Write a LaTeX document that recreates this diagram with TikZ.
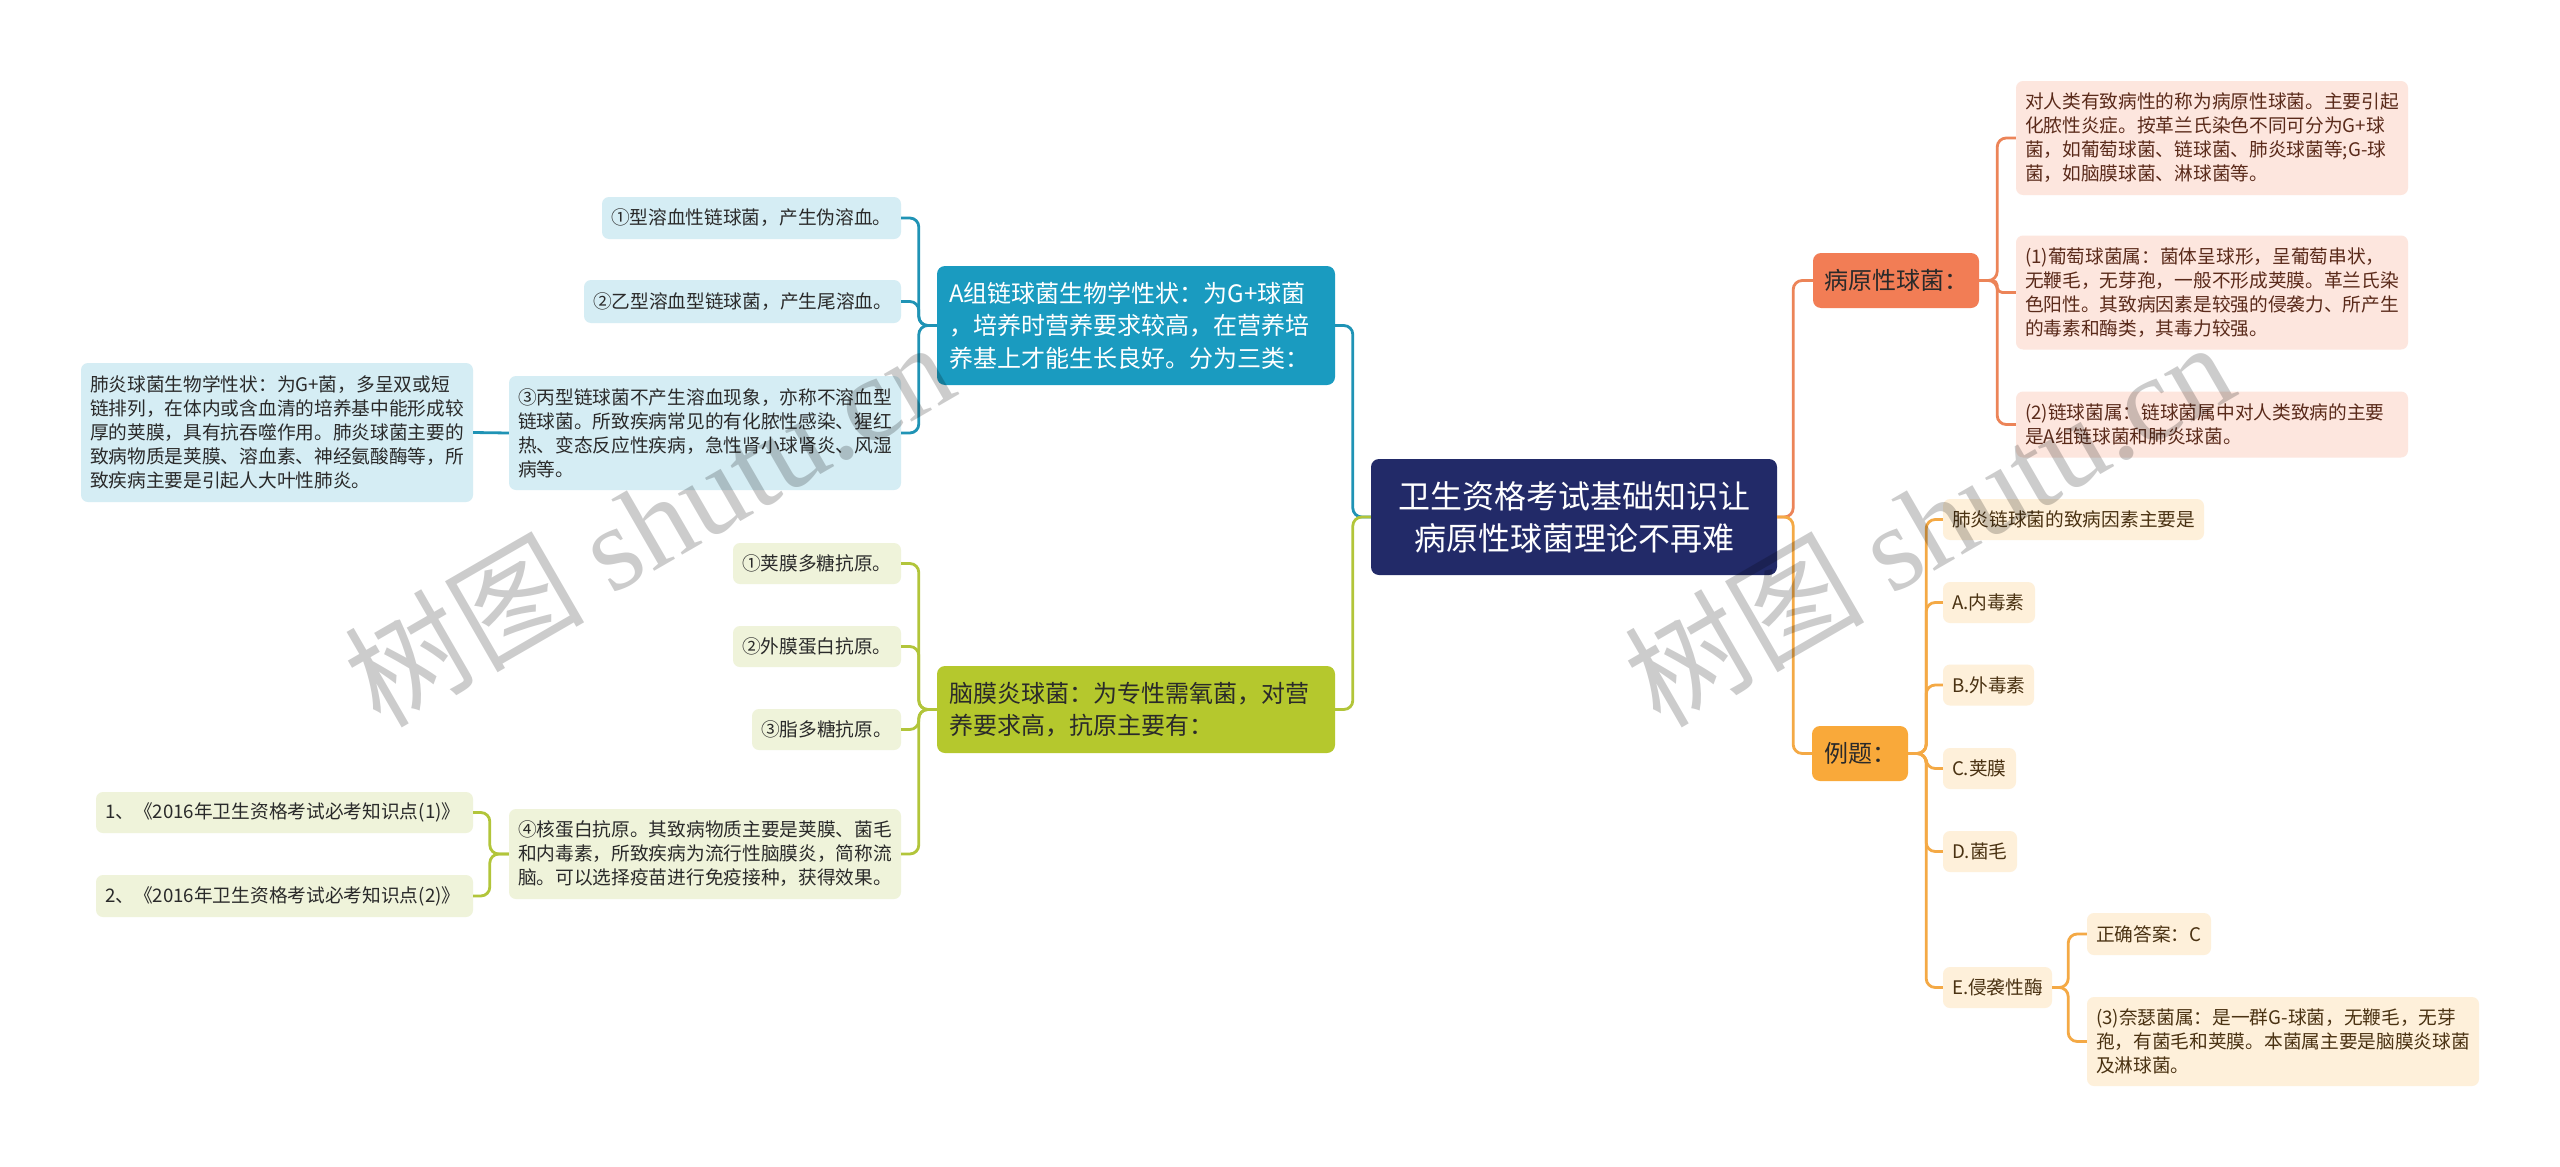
\documentclass[tikz,border=0pt]{standalone}
\usepackage{fontspec}
\setmainfont{Noto Sans CJK SC}
\newfontfamily\wmlatin{Liberation Serif}
\usetikzlibrary{calc}
\definecolor{rootfill}{HTML}{222A68}
\definecolor{tealfill}{HTML}{1A9BC0}
\definecolor{teallight}{HTML}{D5EDF4}
\definecolor{tealline}{HTML}{1F93B5}
\definecolor{olivefill}{HTML}{B5C82D}
\definecolor{olivelight}{HTML}{EFF3DA}
\definecolor{oliveline}{HTML}{B2C53A}
\definecolor{coralfill}{HTML}{F27D55}
\definecolor{corallight}{HTML}{FDE6DE}
\definecolor{coralline}{HTML}{EC8458}
\definecolor{orangefill}{HTML}{F9A93A}
\definecolor{orangelight}{HTML}{FEF0DA}
\definecolor{orangeline}{HTML}{F4A945}
\definecolor{darktext}{HTML}{2A2A2A}
\definecolor{browntext}{HTML}{5A2A1A}
\definecolor{ambertext}{HTML}{4A3212}
\tikzset{
  box/.style={rounded corners=7pt, inner ysep=0pt, inner xsep=9pt, align=left,
    font=\fontsize{18.7pt}{24pt}\selectfont},
  leafT/.style={box, fill=teallight, text=darktext},
  leafO/.style={box, fill=olivelight, text=darktext},
  leafC/.style={box, fill=corallight, text=browntext},
  leafA/.style={box, fill=orangelight, text=ambertext},
  mainbox/.style={rounded corners=8pt, inner ysep=0pt, inner xsep=12pt, align=left,
    font=\fontsize{24pt}{32.5pt}\selectfont},
  conn/.style={line width=2.8pt, rounded corners=9pt},
  tl/.style={conn, draw=tealline},
  ol/.style={conn, draw=oliveline},
  cl/.style={conn, draw=coralline},
  orl/.style={conn, draw=orangeline},
  wm/.style={text=black, text opacity=0.2, font=\fontsize{120pt}{120pt}\selectfont, inner sep=0pt}
}
\begin{document}
\begin{tikzpicture}[x=1pt, y=-1pt]
\useasboundingbox (0,0) rectangle (2560,1167);
\fill[white] (0,0) rectangle (2560,1167);

% root
\node[rounded corners=8pt, fill=rootfill, text=white, align=center, inner ysep=0pt, inner xsep=13pt,
  text width=380pt, minimum height=116pt, font=\fontsize{32pt}{42pt}\selectfont]
  (root) at (1574,517) {卫生资格考试基础知识让\\病原性球菌理论不再难};

% left main branches
\node[mainbox, fill=tealfill, text=white, text width=374pt, minimum height=119pt]
  (a) at (1136,325.5) {A组链球菌生物学性状：为G+球菌\\，培养时营养要求较高，在营养培\\养基上才能生长良好。分为三类：};
\node[mainbox, fill=olivefill, text=darktext, text width=374pt, minimum height=87pt]
  (m) at (1136,709.5) {脑膜炎球菌：为专性需氧菌，对营\\养要求高，抗原主要有：};

% A group children
\node[leafT, text width=281pt, minimum height=42pt] (c1) at (751.5,218) {①型溶血性链球菌，产生伪溶血。};
\node[leafT, text width=299pt, minimum height=43pt] (c2) at (742.5,301.5) {②乙型溶血型链球菌，产生尾溶血。};
\node[leafT, text width=374pt, minimum height=114pt] (c3) at (705,433) {③丙型链球菌不产生溶血现象，亦称不溶血型\\链球菌。所致疾病常见的有化脓性感染、猩红\\热、变态反应性疾病，急性肾小球肾炎、风湿\\病等。};
\node[leafT, text width=374pt, minimum height=139pt] (fy) at (277,432.5) {肺炎球菌生物学性状：为G+菌，多呈双或短\\链排列，在体内或含血清的培养基中能形成较\\厚的荚膜，具有抗吞噬作用。肺炎球菌主要的\\致病物质是荚膜、溶血素、神经氨酸酶等，所\\致疾病主要是引起人大叶性肺炎。};

% meningococcus children
\node[leafO, text width=150pt, minimum height=41pt] (m1) at (817,563.5) {①荚膜多糖抗原。};
\node[leafO, text width=150pt, minimum height=41pt] (m2) at (817,646.5) {②外膜蛋白抗原。};
\node[leafO, text width=131pt, minimum height=41pt] (m3) at (826.5,729.5) {③脂多糖抗原。};
\node[leafO, text width=374pt, minimum height=90pt] (m4) at (705,854) {④核蛋白抗原。其致病物质主要是荚膜、菌毛\\和内毒素，所致疾病为流行性脑膜炎，简称流\\脑。可以选择疫苗进行免疫接种，获得效果。};
\node[leafO, text width=359pt, minimum height=41pt] (r1) at (284.5,812.5) {1、《2016年卫生资格考试必考知识点(1)》};
\node[leafO, text width=359pt, minimum height=42pt] (r2) at (284.5,896) {2、《2016年卫生资格考试必考知识点(2)》};

% right main branches
\node[mainbox, fill=coralfill, text=darktext, inner xsep=11pt, text width=144pt, minimum height=55pt]
  (p) at (1896,280.5) {病原性球菌：};
\node[mainbox, fill=orangefill, text=darktext, inner xsep=12pt, text width=72pt, minimum height=55pt]
  (e) at (1860,753.5) {例题：};

% pathogenic cocci children
\node[leafC, text width=374pt, minimum height=114pt] (p1) at (2212,138) {对人类有致病性的称为病原性球菌。主要引起\\化脓性炎症。按革兰氏染色不同可分为G+球\\菌，如葡萄球菌、链球菌、肺炎球菌等;G-球\\菌，如脑膜球菌、淋球菌等。};
\node[leafC, text width=374pt, minimum height=114pt] (p2) at (2212,292.5) {(1)葡萄球菌属：菌体呈球形，呈葡萄串状，\\无鞭毛，无芽孢，一般不形成荚膜。革兰氏染\\色阳性。其致病因素是较强的侵袭力、所产生\\的毒素和酶类，其毒力较强。};
\node[leafC, text width=374pt, minimum height=66pt] (p3) at (2212,424.5) {(2)链球菌属：链球菌属中对人类致病的主要\\是A组链球菌和肺炎球菌。};

% example children
\node[leafA, text width=243pt, minimum height=41pt] (q0) at (2073.5,519.5) {肺炎链球菌的致病因素主要是};
\node[leafA, text width=74pt, minimum height=41pt] (qa) at (1989,602.5) {A.内毒素};
\node[leafA, text width=73pt, minimum height=41pt] (qb) at (1988.5,685) {B.外毒素};
\node[leafA, text width=55pt, minimum height=41pt] (qc) at (1979.5,768.5) {C.荚膜};
\node[leafA, text width=56pt, minimum height=41pt] (qd) at (1980,851.5) {D.菌毛};
\node[leafA, text width=91pt, minimum height=41pt] (qe) at (1997.5,987.5) {E.侵袭性酶};
\node[leafA, text width=106pt, minimum height=42pt] (ans) at (2149,934) {正确答案：C};
\node[leafA, text width=374pt, minimum height=89pt] (q3) at (2283,1041.5) {(3)奈瑟菌属：是一群G-球菌，无鞭毛，无芽\\孢，有菌毛和荚膜。本菌属主要是脑膜炎球菌\\及淋球菌。};

% connectors: root
\draw[tl] (root.west) -- ++(-18,0) |- (a.east);
\draw[ol] (root.west) -- ++(-18,0) |- (m.east);
\draw[cl] (root.east) -- ++(16,0) |- (p.west);
\draw[orl] (root.east) -- ++(16,0) |- (e.west);

% A group
\draw[tl] (a.west) -- ++(-18,0) |- (c1.east);
\draw[tl] (a.west) -- ++(-18,0) |- (c2.east);
\draw[tl] (a.west) -- ++(-18,0) |- (c3.east);
\draw[tl] (c3.west) -- (fy.east);

% meningococcus
\draw[ol] (m.west) -- ++(-18,0) |- (m1.east);
\draw[ol] (m.west) -- ++(-18,0) |- (m2.east);
\draw[ol] (m.west) -- ++(-18,0) |- (m3.east);
\draw[ol] (m.west) -- ++(-18,0) |- (m4.east);
\draw[ol] (m4.west) -- ++(-19,0) |- (r1.east);
\draw[ol] (m4.west) -- ++(-19,0) |- (r2.east);

% pathogenic cocci
\draw[cl] (p.east) -- ++(18,0) |- (p1.west);
\draw[cl, rounded corners=5pt] (p.east) -- ++(18,0) |- (p2.west);
\draw[cl] (p.east) -- ++(18,0) |- (p3.west);

% examples
\draw[orl] (e.east) -- ++(18,0) |- (q0.west);
\draw[orl] (e.east) -- ++(18,0) |- (qa.west);
\draw[orl] (e.east) -- ++(18,0) |- (qb.west);
\draw[orl] (e.east) -- ++(18,0) |- (qc.west);
\draw[orl] (e.east) -- ++(18,0) |- (qd.west);
\draw[orl] (e.east) -- ++(18,0) |- (qe.west);
\draw[orl] (qe.east) -- ++(16,0) |- (ans.west);
\draw[orl] (qe.east) -- ++(16,0) |- (q3.west);

% watermarks
\node[wm, rotate=30] (wm1) at (648,522) {树图 {\wmlatin shutu.cn}};
\node[wm, rotate=30] (wm2) at (1928,522) {树图 {\wmlatin shutu.cn}};
\end{tikzpicture}
\end{document}
